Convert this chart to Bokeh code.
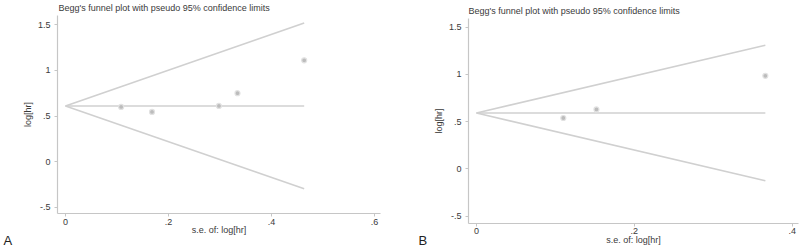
from bokeh.plotting import figure
from bokeh.layouts import row, column
from bokeh.models import Range1d, FixedTicker, Title
from bokeh.embed import file_html
from bokeh.resources import INLINE

# Panel A data
a_se = [0.108, 0.168, 0.298, 0.334, 0.4635]
a_loghr = [0.60, 0.545, 0.61, 0.75, 1.11]
a_pooled = 0.61
a_se_max = 0.4635

# Panel B data
b_se = [0.110, 0.152, 0.366]
b_loghr = [0.539, 0.63, 0.986]
b_pooled = 0.592
b_se_max = 0.366

title_text = "Begg's funnel plot with pseudo 95% confidence limits"
y_ticks = [-0.5, 0, 0.5, 1, 1.5]
y_tick_labels = {-0.5: "-.5", 0: "0", 0.5: ".5", 1: "1", 1.5: "1.5"}
a_x_ticks = [0, 0.2, 0.4, 0.6]
a_x_tick_labels = {0: "0", 0.2: ".2", 0.4: ".4", 0.6: ".6"}
b_x_ticks = [0, 0.2, 0.4]
b_x_tick_labels = {0: "0", 0.2: ".2", 0.4: ".4"}

FONT = "Liberation Sans"
TXT = "#3a3a3a"
LINE = "#d0d0d0"
AXIS = "#c6c6c6"


def panel(se, loghr, pooled, se_max, xr, yr, borders, xticks, xlabels,
          title_standoff, title_offset, tick_standoff, xlab_standoff,
          letter, letter_offset, letter_standoff):
    left, right, top, bottom = borders
    p = figure(width=400, height=247, output_backend="svg", toolbar_location=None,
               x_range=Range1d(*xr), y_range=Range1d(*yr),
               min_border_left=left, min_border_right=right,
               min_border_top=top, min_border_bottom=bottom)
    p.outline_line_color = None
    p.xgrid.visible = False
    p.ygrid.visible = False
    p.background_fill_color = "white"
    p.border_fill_color = "white"

    p.title.text = title_text
    p.title.align = "left"
    p.title.vertical_align = "top"
    p.title.offset = title_offset
    p.title.standoff = title_standoff
    p.title.text_font = FONT
    p.title.text_font_size = "9px"
    p.title.text_font_style = "normal"
    p.title.text_color = TXT

    xs = [0.0, se_max]
    p.line(xs, [pooled, pooled], line_color=LINE, line_width=1.6)
    p.line(xs, [pooled, pooled + 1.96 * se_max], line_color=LINE, line_width=1.6)
    p.line(xs, [pooled, pooled - 1.96 * se_max], line_color=LINE, line_width=1.6)
    p.scatter(se, loghr, size=5, fill_color="#bcbcbc", line_color="#e2e2e2",
              line_width=1.2)

    for ax in (p.xaxis[0], p.yaxis[0]):
        ax.axis_line_color = AXIS
        ax.axis_line_width = 1.2
        ax.major_tick_line_color = AXIS
        ax.major_tick_out = 3
        ax.major_tick_in = 0
        ax.minor_tick_line_color = None
        ax.major_label_text_font = FONT
        ax.major_label_text_font_size = "9px"
        ax.major_label_text_color = TXT
        ax.axis_label_text_font = FONT
        ax.axis_label_text_font_size = "9px"
        ax.axis_label_text_font_style = "normal"
        ax.axis_label_text_color = TXT

    p.yaxis.ticker = FixedTicker(ticks=y_ticks)
    p.yaxis.major_label_overrides = y_tick_labels
    p.yaxis.major_label_orientation = "horizontal"
    p.yaxis.major_label_standoff = 4
    p.yaxis.axis_label = "log[hr]"
    p.yaxis.axis_label_standoff = 2

    p.xaxis.ticker = FixedTicker(ticks=xticks)
    p.xaxis.major_label_overrides = xlabels
    p.xaxis.major_label_standoff = tick_standoff
    p.xaxis.axis_label = "s.e. of: log[hr]"
    p.xaxis.axis_label_standoff = xlab_standoff

    p.add_layout(Title(text=letter, align="left", offset=letter_offset,
                       vertical_align="top", standoff=letter_standoff,
                       text_font=FONT, text_font_size="13px",
                       text_font_style="normal", text_color="#222222"), "below")
    return p


pA = panel(a_se, a_loghr, a_pooled, a_se_max,
           (-0.01555, 0.6117), (-0.569, 1.602), (57, 20, 15, 34),
           a_x_ticks, a_x_tick_labels, 2, 1, 2, -3, "A", -54, -9)
pB = panel(b_se, b_loghr, b_pooled, b_se_max,
           (-0.01015, 0.408), (-0.577, 1.592), (68, 2, 18, 24),
           b_x_ticks, b_x_tick_labels, 2, 0, 1, -2, "B", -50, -29)

layout = row(column(pA), column(pB), spacing=0)
open("out.html", "w").write(file_html(layout, INLINE))
